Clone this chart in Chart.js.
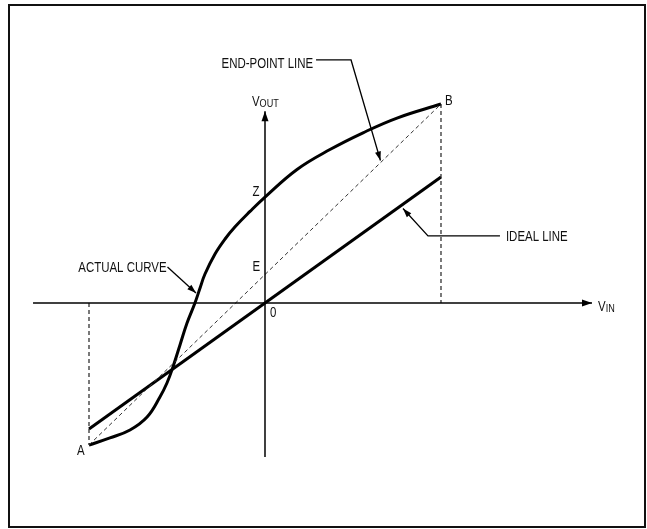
<!DOCTYPE html>
<html>
<head>
<meta charset="utf-8">
<script src="https://cdn.jsdelivr.net/npm/chart.js@4"></script>
<style>
  html, body { margin: 0; padding: 0; background: #fff; }
  canvas { display: block; }
</style>
</head>
<body>
<canvas id="c" width="647" height="529"></canvas>
<script>
// ---- data (normalized units: A at x=-1, B at x=1, ideal line y = x) ----
const actualX = [-1, -0.881, -0.767, -0.670, -0.597, -0.557, -0.523, -0.483, -0.443, -0.398, -0.369, -0.341, -0.284, -0.227, -0.170, -0.085, 0, 0.182, 0.369, 0.557, 0.750, 1];
const actualY = [-1.127, -1.071, -1.008, -0.905, -0.746, -0.635, -0.508, -0.333, -0.159, 0, 0.119, 0.230, 0.389, 0.508, 0.605, 0.727, 0.841, 1.060, 1.218, 1.351, 1.468, 1.579];
const idealX = [-1, 1];
const idealY = [-1, 1];
const endPointX = [-1, 1];
const endPointY = [-1.127, 1.579];
const axisXRange = [-1.318, 1.858];
const axisYRange = [-1.222, 1.521];
const pointLabels = ['A', 'B', 'Z', 'E', '0'];
const calloutLabels = ['END-POINT LINE', 'IDEAL LINE', 'ACTUAL CURVE'];

const pts = (xs, ys) => xs.map((x, i) => ({ x: x, y: ys[i] }));

const FONT = "'Liberation Sans', Arial, sans-serif";
const SQUEEZE = 0.79;
const FS = 14.5;

const decor = {
  id: 'decor',
  afterDatasetsDraw(chart) {
    const ctx = chart.ctx;
    const sx = chart.scales.x, sy = chart.scales.y;
    const P = (x, y) => [sx.getPixelForValue(x), sy.getPixelForValue(y)];

    function arrowHead(tip, from, len, half) {
      const ang = Math.atan2(tip[1] - from[1], tip[0] - from[0]);
      ctx.save();
      ctx.fillStyle = '#000';
      ctx.beginPath();
      ctx.moveTo(tip[0], tip[1]);
      ctx.lineTo(tip[0] - len * Math.cos(ang) + half * Math.sin(ang), tip[1] - len * Math.sin(ang) - half * Math.cos(ang));
      ctx.lineTo(tip[0] - len * Math.cos(ang) - half * Math.sin(ang), tip[1] - len * Math.sin(ang) + half * Math.cos(ang));
      ctx.closePath();
      ctx.fill();
      ctx.restore();
    }
    function poly(list, w) {
      ctx.save();
      ctx.strokeStyle = '#000';
      ctx.lineWidth = w;
      ctx.beginPath();
      list.forEach((p, i) => { const q = P(p[0], p[1]); if (i) ctx.lineTo(q[0], q[1]); else ctx.moveTo(q[0], q[1]); });
      ctx.stroke();
      ctx.restore();
    }
    function text(s, x, y) {
      const q = P(x, y);
      ctx.save();
      ctx.translate(q[0], q[1]);
      ctx.scale(SQUEEZE, 1);
      ctx.fillStyle = '#111';
      ctx.font = FS + 'px ' + FONT;
      ctx.textAlign = 'left';
      ctx.textBaseline = 'alphabetic';
      ctx.fillText(s, 0, 0);
      ctx.restore();
    }
    function subText(main, sub, x, y) {
      const q = P(x, y);
      ctx.save();
      ctx.translate(q[0], q[1]);
      ctx.scale(SQUEEZE, 1);
      ctx.fillStyle = '#111';
      ctx.textBaseline = 'alphabetic';
      ctx.font = FS + 'px ' + FONT;
      ctx.fillText(main, 0, 0);
      const w = ctx.measureText(main).width;
      ctx.font = '11.5px ' + FONT;
      ctx.fillText(sub, w, 1);
      ctx.restore();
    }

    // axis arrowheads
    arrowHead(P(axisXRange[1], 0), P(0, 0), 10, 3.5);
    arrowHead(P(0, axisYRange[1]), P(0, 0), 10, 3.5);

    // callout leaders
    poly([[0.290, 1.929], [0.489, 1.929], [0.656, 1.131]], 1.3);
    arrowHead(P(0.656, 1.131), P(0.489, 1.929), 9, 3);
    poly([[1.335, 0.532], [0.926, 0.532], [0.784, 0.75]], 1.3);
    arrowHead(P(0.784, 0.75), P(0.926, 0.532), 9, 3);
    poly([[-0.554, 0.286], [-0.392, 0.079]], 1.3);
    arrowHead(P(-0.392, 0.079), P(-0.554, 0.286), 9, 3);

    // texts
    text(calloutLabels[0], -0.247, 1.869);
    text(calloutLabels[1], 1.369, 0.492);
    text(calloutLabels[2], -1.061, 0.246);
    text(pointLabels[0], -1.068, -1.210);
    text(pointLabels[1], 1.023, 1.571);
    text(pointLabels[2], -0.071, 0.849);
    text(pointLabels[3], -0.071, 0.250);
    text(pointLabels[4], 0.028, -0.111);
    subText('V', 'OUT', -0.074, 1.567);
    subText('V', 'IN', 1.892, -0.063);

    // frame
    ctx.save();
    ctx.strokeStyle = '#111';
    ctx.lineWidth = 2;
    ctx.strokeRect(9, 5, 636, 522);
    ctx.restore();
  }
};

new Chart(document.getElementById('c'), {
  type: 'scatter',
  data: {
    datasets: [
      { data: pts(axisXRange, [0, 0]), showLine: true, borderColor: '#000', borderWidth: 1.5, pointRadius: 0 },
      { data: pts([0, 0], axisYRange), showLine: true, borderColor: '#000', borderWidth: 1.5, pointRadius: 0 },
      { data: pts([-1, -1], [0, endPointY[0]]), showLine: true, borderColor: '#222', borderWidth: 1.2, borderDash: [4, 3], pointRadius: 0 },
      { data: pts([1, 1], [endPointY[1], 0]), showLine: true, borderColor: '#222', borderWidth: 1.2, borderDash: [4, 3], pointRadius: 0 },
      { data: pts(endPointX, endPointY), showLine: true, borderColor: '#333', borderWidth: 1, borderDash: [4, 3], pointRadius: 0 },
      { data: pts(idealX, idealY), showLine: true, borderColor: '#000', borderWidth: 3, pointRadius: 0 },
      { data: pts(actualX, actualY), showLine: true, borderColor: '#000', borderWidth: 3, pointRadius: 0, tension: 0.4 }
    ]
  },
  options: {
    responsive: false,
    animation: false,
    layout: { padding: 0 },
    plugins: { legend: { display: false }, tooltip: { enabled: false } },
    scales: {
      x: { type: 'linear', display: false, min: -1.5057, max: 2.1705 },
      y: { type: 'linear', display: false, min: -1.7937, max: 2.4048 }
    }
  },
  plugins: [decor]
});
</script>
</body>
</html>
